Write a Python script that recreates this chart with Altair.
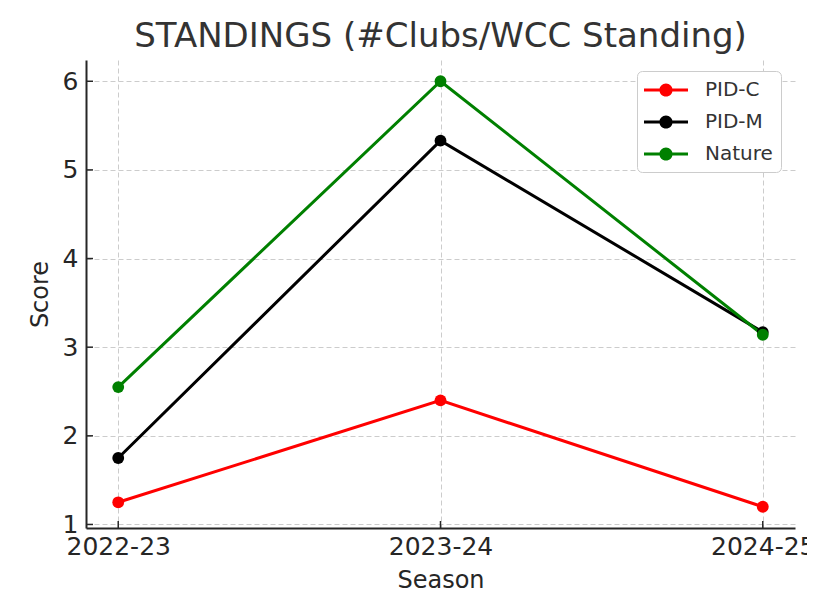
import altair as alt
import pandas as pd

seasons = ["2022-23", "2023-24", "2024-25"]
series_names = ["PID-C", "PID-M", "Nature"]
pid_c = [1.25, 2.40, 1.20]
pid_m = [1.75, 5.33, 3.17]
nature = [2.55, 6.00, 3.14]
colors = ["#ff0000", "#000000", "#008000"]
y_ticks = [1, 2, 3, 4, 5, 6]

rows = []
for name, vals in zip(series_names, [pid_c, pid_m, nature]):
    for s, v in zip(seasons, vals):
        rows.append({"Season": s, "Score": v, "series": name})
df = pd.DataFrame(rows)
xt = pd.DataFrame({"Season": seasons})
yt = pd.DataFrame({"Score": y_ticks})

FONT = "DejaVu Sans"
W, H = 709, 468

x_scale = alt.Scale(type="point", padding=0.1, domain=seasons)
y_scale = alt.Scale(domain=[0.96, 6.24], nice=False, zero=False)
x_axis = alt.Axis(title="Season", labelAngle=0, tickSize=0, labelPadding=6,
                  titlePadding=9, grid=True, values=seasons)
y_axis = alt.Axis(title="Score", values=y_ticks, format="d", tickSize=0,
                  labelPadding=8, titlePadding=10, grid=True)

x_enc = alt.X("Season:O", sort=seasons, scale=x_scale, axis=x_axis)
y_enc = alt.Y("Score:Q", scale=y_scale, axis=y_axis)
color_scale = alt.Scale(domain=series_names, range=colors)

legend_symbol = ("M-2,-0.14L2,-0.14L2,0.14L-2,0.14Z"
                 "M0.6,0A0.6,0.6,0,1,1,-0.6,0A0.6,0.6,0,1,1,0.6,0Z")

base = alt.Chart(df)
lines = base.mark_line(strokeWidth=3).encode(
    x=x_enc, y=y_enc,
    color=alt.Color("series:N", scale=color_scale, legend=None),
)
points = base.mark_point(filled=True, size=140, opacity=1).encode(
    x=x_enc, y=y_enc,
    color=alt.Color("series:N", scale=color_scale, sort=series_names,
                    legend=alt.Legend(title=None, orient="none", legendX=551, legendY=11,
                                      symbolType=legend_symbol, symbolSize=484,
                                      symbolStrokeWidth=0, symbolOffset=10,
                                      labelFontSize=20, labelFont=FONT, labelColor="#333333",
                                      labelOffset=28, rowPadding=11,
                                      padding=8, strokeColor="#cccccc", cornerRadius=5,
                                      fillColor="#ffffff")),
)
xticks = alt.Chart(xt).mark_rule(color="#262626", strokeWidth=1.5).encode(
    x=x_enc,
    y=alt.value(H), y2=alt.value(H - 7),
)
yticks = alt.Chart(yt).mark_rule(color="#262626", strokeWidth=1.5).encode(
    y=y_enc,
    x=alt.value(0), x2=alt.value(7),
)

chart = alt.layer(lines, points, xticks, yticks).resolve_scale(color="independent").properties(
    width=W, height=H,
    title=alt.Title("STANDINGS (#Clubs/WCC Standing)", fontSize=34, font=FONT,
                    fontWeight="normal", color="#333333", anchor="middle", offset=6),
    autosize=alt.AutoSizeParams(type="none"),
    padding={"left": 78, "top": 52, "right": 12, "bottom": 64},
).configure_view(stroke=None).configure_axis(
    labelFont=FONT, labelFontSize=25, labelColor="#262626",
    titleFont=FONT, titleFontSize=24, titleFontWeight="normal", titleColor="#262626",
    domainColor="#262626", domainWidth=2,
    gridColor="#cccccc", gridDash=[5, 3], gridWidth=1,
)

chart.save("out.html", embed_options={"renderer": "svg", "actions": False})
